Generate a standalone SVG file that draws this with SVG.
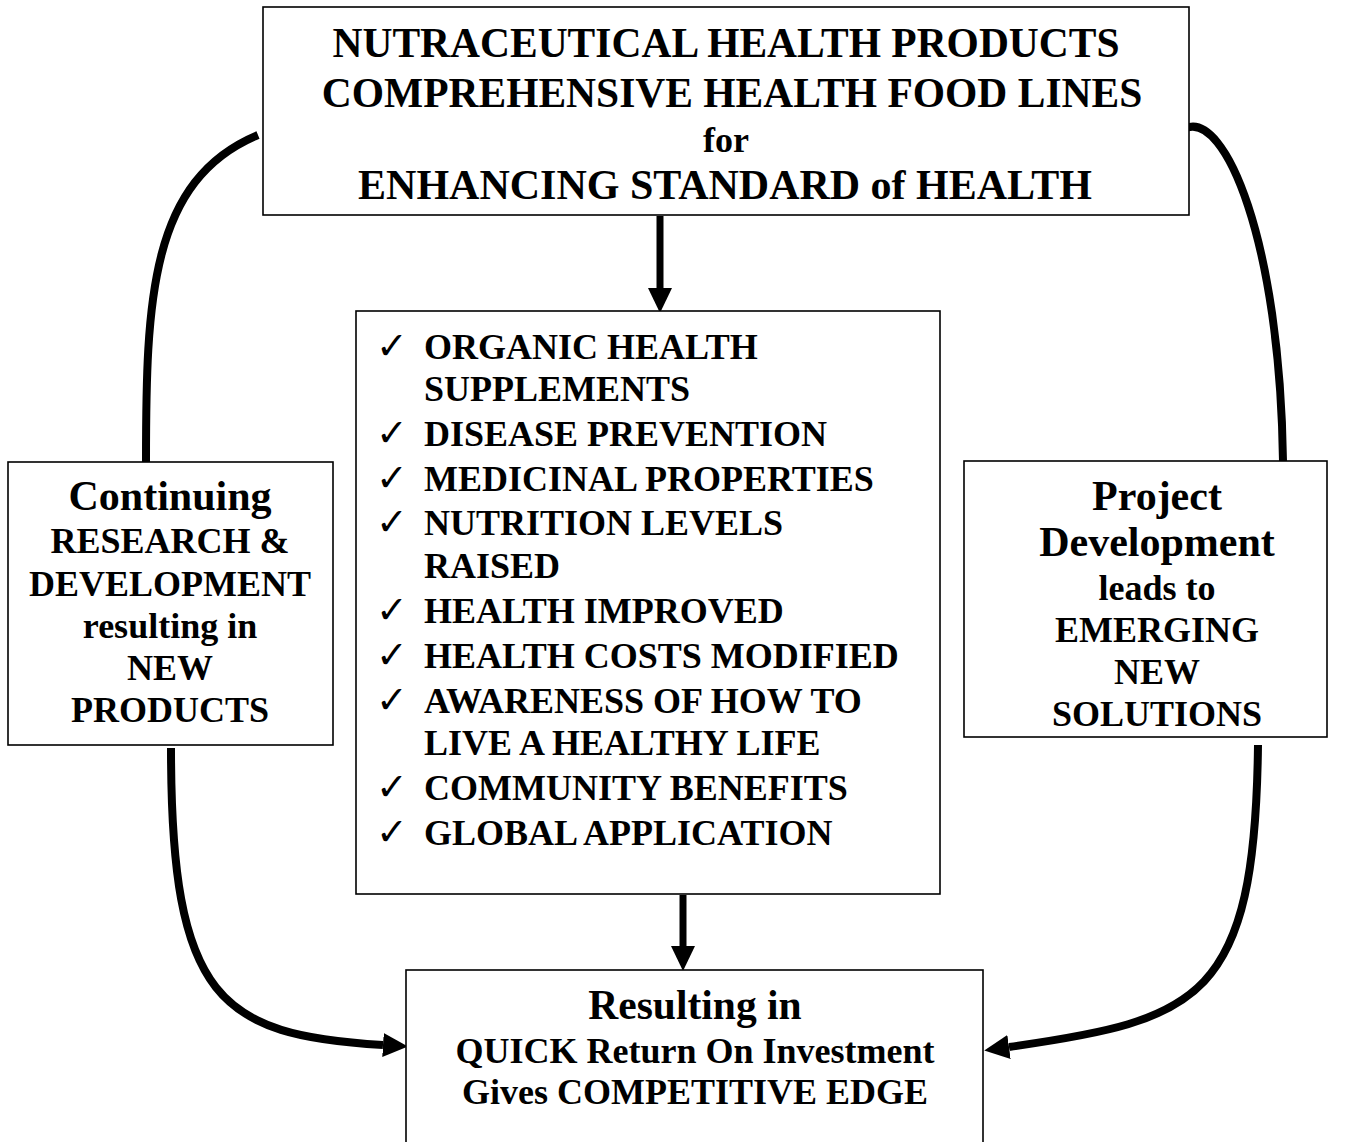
<svg xmlns="http://www.w3.org/2000/svg" width="1358" height="1142" viewBox="0 0 1358 1142">
<style>
.box{fill:#fff;stroke:#000;stroke-width:1.6}
.t{font-family:"Liberation Serif","Times New Roman",serif;font-weight:bold;fill:#000}
.c{text-anchor:middle}
.f42{font-size:42px}
.f41{font-size:41.5px}
.f36{font-size:36px}
.ck{font-family:"DejaVu Sans",sans-serif;font-size:38px;fill:#000}
.conn{fill:none;stroke:#000;stroke-width:8}
.shaft{fill:none;stroke:#000;stroke-width:7}
</style>
<defs>
<marker id="ah" markerUnits="userSpaceOnUse" markerWidth="26" markerHeight="24" refX="0" refY="12" orient="auto">
<path d="M0,0 L25,12 L0,24 z" fill="#000"/>
</marker>
</defs>
<rect width="1358" height="1142" fill="#fff"/>
<g id="connectors">
<path class="conn" d="M146,462 C146,300 150,180 258,135"/>
<path class="conn" d="M1186,128 C1225,112 1280,240 1283,461"/>
<path class="conn" d="M171,748 C171,1000 220,1035 383,1045" marker-end="url(#ah)"/>
<path class="conn" d="M1258,745 C1255,1000 1200,1020 1009,1047" marker-end="url(#ah)"/>
<path class="shaft" d="M660,216 L660,288" marker-end="url(#ah)"/>
<path class="shaft" d="M683,895 L683,946" marker-end="url(#ah)"/>
</g>
<g id="top">
<rect class="box" x="263" y="7" width="926" height="208"/>
<text class="t c f41" x="726" y="57">NUTRACEUTICAL HEALTH PRODUCTS</text>
<text class="t c f41" x="732" y="107">COMPREHENSIVE HEALTH FOOD LINES</text>
<text class="t c f36" x="726" y="152">for</text>
<text class="t c f42" x="725" y="199">ENHANCING STANDARD of HEALTH</text>
</g>
<g id="center">
<rect class="box" x="356" y="311" width="584" height="583"/>
<g class="ck">
<text x="376" y="359">✓</text>
<text x="376" y="446">✓</text>
<text x="376" y="491">✓</text>
<text x="376" y="535">✓</text>
<text x="376" y="623">✓</text>
<text x="376" y="668">✓</text>
<text x="376" y="713">✓</text>
<text x="376" y="800">✓</text>
<text x="376" y="845">✓</text>
</g>
<g class="t f36">
<text x="424" y="359">ORGANIC HEALTH</text>
<text x="424" y="401">SUPPLEMENTS</text>
<text x="424" y="446">DISEASE PREVENTION</text>
<text x="424" y="491">MEDICINAL PROPERTIES</text>
<text x="424" y="535">NUTRITION LEVELS</text>
<text x="424" y="578">RAISED</text>
<text x="424" y="623">HEALTH IMPROVED</text>
<text x="424" y="668">HEALTH COSTS MODIFIED</text>
<text x="424" y="713">AWARENESS OF HOW TO</text>
<text x="424" y="755">LIVE A HEALTHY LIFE</text>
<text x="424" y="800">COMMUNITY BENEFITS</text>
<text x="424" y="845">GLOBAL APPLICATION</text>
</g>
</g>
<g id="left">
<rect class="box" x="8" y="462" width="325" height="283"/>
<text class="t c f42" x="170" y="510">Continuing</text>
<text class="t c f36" x="170" y="553">RESEARCH &amp;</text>
<text class="t c f36" x="170" y="596">DEVELOPMENT</text>
<text class="t c f36" x="170" y="638">resulting in</text>
<text class="t c f36" x="170" y="680">NEW</text>
<text class="t c f36" x="170" y="722">PRODUCTS</text>
</g>
<g id="right">
<rect class="box" x="964" y="461" width="363" height="276"/>
<text class="t c f42" x="1157" y="510">Project</text>
<text class="t c f42" x="1157" y="556">Development</text>
<text class="t c f36" x="1157" y="600">leads to</text>
<text class="t c f36" x="1157" y="642">EMERGING</text>
<text class="t c f36" x="1157" y="684">NEW</text>
<text class="t c f36" x="1157" y="726">SOLUTIONS</text>
</g>
<g id="bottom">
<rect class="box" x="406" y="970" width="577" height="200"/>
<text class="t c f41" x="695" y="1019">Resulting in</text>
<text class="t c f36" x="695" y="1063">QUICK Return On Investment</text>
<text class="t c f36" x="695" y="1104">Gives COMPETITIVE EDGE</text>
</g>
</svg>
